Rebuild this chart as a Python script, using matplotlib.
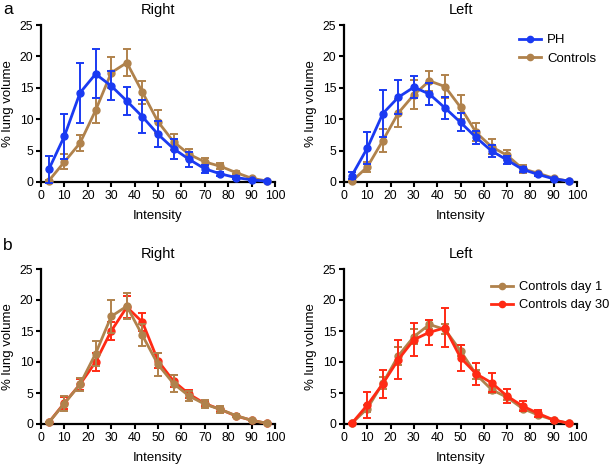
import matplotlib
matplotlib.use("Agg")
import matplotlib.pyplot as plt

plt.rcParams['font.family'] = ['Liberation Sans', 'DejaVu Sans']

intensity = [3.33, 10, 16.67, 23.33, 30, 36.67, 43.33, 50, 56.67, 63.33, 70, 76.67, 83.33, 90, 96.67]
x_ticks = [0, 10, 20, 30, 40, 50, 60, 70, 80, 90, 100]
y_ticks = [0, 5, 10, 15, 20, 25]

# Panel a, Right
ph_right = [2.0, 7.3, 14.2, 17.2, 15.3, 12.9, 10.4, 7.6, 5.3, 3.6, 2.1, 1.3, 0.7, 0.35, 0.1]
ph_right_err = [2.1, 3.6, 4.8, 3.9, 2.3, 2.3, 2.6, 2.1, 1.6, 1.2, 0.6, 0.3, 0.2, 0.15, 0.05]
ctrl_right = [0.2, 3.2, 6.2, 11.4, 17.4, 19.0, 14.3, 9.6, 6.4, 4.4, 3.2, 2.5, 1.5, 0.6, 0.15]
ctrl_right_err = [0.1, 1.2, 1.3, 2.0, 2.5, 2.1, 1.8, 1.8, 1.3, 0.8, 0.6, 0.5, 0.2, 0.15, 0.05]

# Panel a, Left
ph_left = [1.0, 5.4, 10.9, 13.5, 15.1, 14.0, 11.8, 9.5, 7.1, 4.95, 3.5, 2.0, 1.2, 0.5, 0.15]
ph_left_err = [0.6, 2.6, 3.8, 2.7, 1.7, 1.8, 1.75, 1.45, 1.1, 0.9, 0.7, 0.4, 0.2, 0.15, 0.05]
ctrl_left = [0.1, 2.4, 6.6, 11.0, 13.9, 16.1, 15.2, 11.9, 7.9, 5.6, 4.25, 2.1, 1.4, 0.6, 0.1]
ctrl_left_err = [0.05, 0.8, 1.9, 2.2, 2.3, 1.65, 1.8, 1.9, 1.45, 1.2, 0.8, 0.6, 0.25, 0.15, 0.05]

# Panel b, Right
d1_right = [0.25, 3.3, 6.4, 11.35, 17.35, 19.0, 14.3, 9.6, 6.5, 4.5, 3.2, 2.35, 1.35, 0.6, 0.1]
d1_right_err = [0.1, 1.2, 1.1, 2.0, 2.6, 2.05, 1.75, 1.8, 1.4, 0.85, 0.65, 0.5, 0.2, 0.15, 0.05]
d30_right = [0.25, 3.4, 6.4, 10.0, 15.0, 18.85, 16.45, 10.2, 6.9, 4.8, 3.3, 2.35, 1.3, 0.6, 0.1]
d30_right_err = [0.1, 0.9, 0.9, 1.45, 1.4, 1.8, 1.5, 1.2, 1.0, 0.65, 0.4, 0.35, 0.2, 0.15, 0.05]

# Panel b, Left
d1_left = [0.1, 2.5, 6.6, 11.0, 14.1, 16.05, 15.25, 11.8, 8.0, 5.55, 4.3, 2.5, 1.45, 0.65, 0.1]
d1_left_err = [0.05, 0.6, 0.95, 1.45, 1.15, 0.7, 0.8, 0.9, 0.75, 0.55, 0.4, 0.3, 0.25, 0.1, 0.05]
d30_left = [0.1, 3.05, 6.5, 10.4, 13.6, 14.8, 15.5, 10.7, 8.1, 6.65, 4.5, 2.9, 1.7, 0.65, 0.1]
d30_left_err = [0.05, 2.1, 2.25, 3.1, 2.7, 2.0, 3.15, 2.1, 1.75, 1.55, 1.1, 0.75, 0.5, 0.1, 0.05]

BLUE = '#1a3af2'
BROWN = '#b0824c'
RED = '#ff2a14'

fig = plt.figure(figsize=(6.09, 4.67), dpi=100)

W, H = 609, 467
def ax_at(x0, x1, y0, y1):
    return fig.add_axes([x0 / W, 1 - y1 / H, (x1 - x0) / W, (y1 - y0) / H])

axes = {
    'aR': ax_at(41, 275, 25, 182),
    'aL': ax_at(344, 577, 25, 182),
    'bR': ax_at(41, 275, 269, 424),
    'bL': ax_at(344, 577, 269, 424),
}

def series(ax, y, e, color, label, z):
    ax.errorbar(intensity, y, yerr=e, color=color, lw=2.0, marker='o', ms=5.0,
                elinewidth=1.4, capsize=3.2, capthick=1.4, label=label,
                zorder=z, clip_on=False)

def style(ax, title):
    ax.set_xlim(0, 100)
    ax.set_ylim(0, 25)
    ax.set_xticks(x_ticks)
    ax.set_yticks(y_ticks)
    for s in ['top', 'right']:
        ax.spines[s].set_visible(False)
    for s in ['left', 'bottom']:
        ax.spines[s].set_linewidth(1.6)
    ax.tick_params(direction='out', length=3.5, width=1.5, labelsize=8.8, pad=2)
    ax.set_xlabel('Intensity', fontsize=9.5, labelpad=6)
    ax.set_ylabel('% lung volume', fontsize=9.5, labelpad=4)
    ax.set_title(title, fontsize=10.5, pad=8)

series(axes['aR'], ctrl_right, ctrl_right_err, BROWN, 'Controls', 3)
series(axes['aR'], ph_right, ph_right_err, BLUE, 'PH', 4)
series(axes['aL'], ctrl_left, ctrl_left_err, BROWN, 'Controls', 3)
series(axes['aL'], ph_left, ph_left_err, BLUE, 'PH', 4)
series(axes['bR'], d30_right, d30_right_err, RED, 'Controls day 30', 3)
series(axes['bR'], d1_right, d1_right_err, BROWN, 'Controls day 1', 4)
series(axes['bL'], d1_left, d1_left_err, BROWN, 'Controls day 1', 3)
series(axes['bL'], d30_left, d30_left_err, RED, 'Controls day 30', 4)

style(axes['aR'], 'Right')
style(axes['aL'], 'Left')
style(axes['bR'], 'Right')
style(axes['bL'], 'Left')

from matplotlib.lines import Line2D
def legend(ax, items, loc_xy, fs):
    handles = [Line2D([0], [0], color=c, lw=2.0, marker='o', ms=4.5) for c, _ in items]
    ax.legend(handles, [l for _, l in items], loc='upper right', bbox_to_anchor=loc_xy,
              frameon=False, fontsize=fs, handlelength=1.7, handletextpad=0.45,
              labelspacing=0.45, borderaxespad=0)

legend(axes['aL'], [(BLUE, 'PH'), (BROWN, 'Controls')], (1.105, 0.975), 9.5)
legend(axes['bL'], [(BROWN, 'Controls day 1'), (RED, 'Controls day 30')], (1.16, 0.955), 9.3)

fig.text(3 / W, 1 - 14 / H, 'a', fontsize=12.5, va='baseline')
fig.text(3 / W, 1 - 250 / H, 'b', fontsize=12.5, va='baseline')

fig.savefig('out.png', dpi=100)
